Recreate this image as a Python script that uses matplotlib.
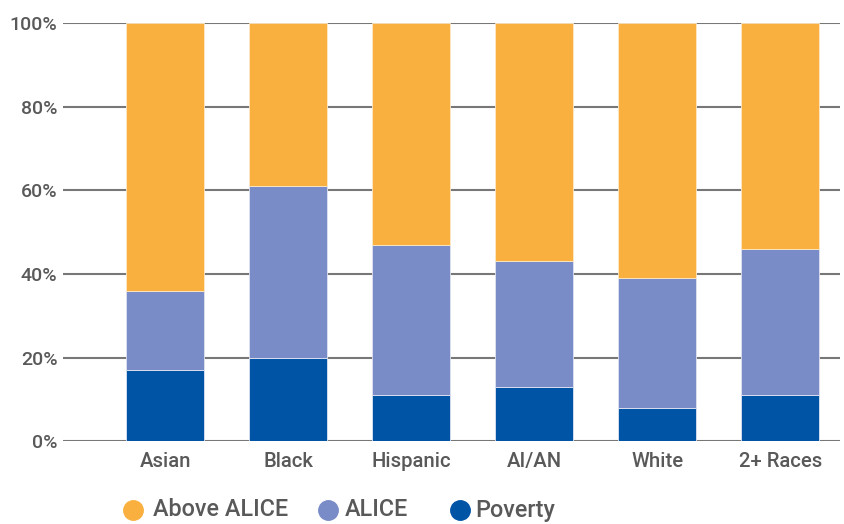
import matplotlib
matplotlib.use("Agg")
import matplotlib.pyplot as plt
from matplotlib.lines import Line2D
import numpy as np

plt.rcParams['font.family'] = ['Roboto', 'DejaVu Sans']

groups = ["Asian", "Black", "Hispanic", "AI/AN", "White", "2+ Races"]
poverty = [17, 20, 11, 13, 8, 11]
alice = [19, 41, 36, 30, 31, 35]
above_alice = [64, 39, 53, 57, 61, 54]

c_poverty = "#0054A6"
c_alice = "#798CC7"
c_above = "#F9B03F"
text_col = "#595959"

fig = plt.figure(figsize=(8.45, 5.24), dpi=100)
ax = fig.add_axes([0.0746, 0.158, 0.92, 0.798])

x = np.arange(len(groups))
w = 0.63
bot2 = np.array(poverty)
bot3 = bot2 + np.array(alice)
ax.bar(x, poverty, w, color=c_poverty, edgecolor="#dfe3f2", linewidth=0.6, zorder=3)
ax.bar(x, alice, w, bottom=bot2, color=c_alice, edgecolor="#dfe3f2", linewidth=0.6, zorder=3)
ax.bar(x, above_alice, w, bottom=bot3, color=c_above, edgecolor="#fde9c8", linewidth=0.6, zorder=3)

ax.set_ylim(0, 100)
ax.set_xlim(-0.83, 5.49)
ax.set_yticks([0, 20, 40, 60, 80, 100])
ax.set_yticklabels([f"{v}%" for v in [0, 20, 40, 60, 80, 100]])
ax.set_xticks(x)
ax.set_xticklabels(groups)
ax.yaxis.grid(True, color="#777777", linewidth=1.5, zorder=0)
ax.set_axisbelow(True)
for s in ax.spines.values():
    s.set_visible(False)
ax.tick_params(axis='both', length=0, labelcolor=text_col)
ax.tick_params(axis='y', pad=4, labelsize=14)
ax.tick_params(axis='x', pad=8, labelsize=14.6)
for lab in ax.get_xticklabels() + ax.get_yticklabels():
    lab.set_fontweight('medium')

# legend, placed by hand in figure pixels
W, H = 845, 524
leg_items = [("Above ALICE", c_above, 133, 153),
             ("ALICE", c_alice, 328, 345),
             ("Poverty", c_poverty, 460, 475)]
ly = 1 - 510 / H
for name, col, mx, tx in leg_items:
    fig.add_artist(Line2D([mx / W], [ly], marker='o', markersize=14, color=col,
                          linestyle='', transform=fig.transFigure))
    fig.text(tx / W, ly, name, fontsize=16.8, fontweight='medium', color=text_col,
             va='center', ha='left')

fig.savefig("out.png", dpi=100)
